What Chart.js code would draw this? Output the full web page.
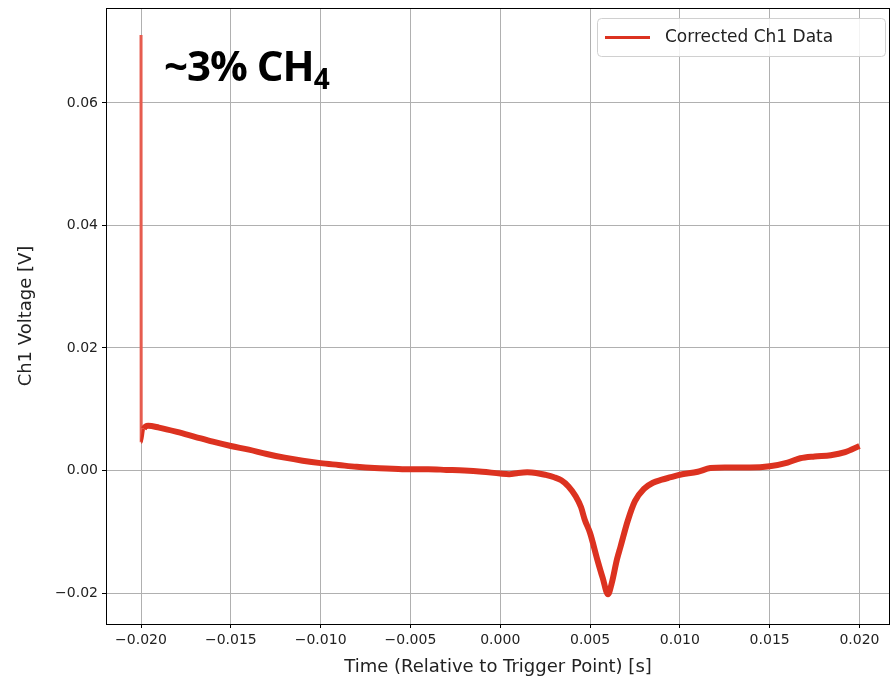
<!DOCTYPE html>
<html>
<head>
<meta charset="utf-8">
<script src="https://cdn.jsdelivr.net/npm/chart.js@4.4.1/dist/chart.umd.min.js"></script>
<style>
  html, body { margin: 0; padding: 0; background: #fff; }
  #wrap { position: relative; width: 891px; height: 683px; }
  #note { position: absolute; left: 164px; top: 36px; font-family: "Open Sans", sans-serif; font-weight: bold; font-size: 42px; color: #000; letter-spacing: -1px; }
  #note sub { font-size: 28px; vertical-align: -8px; line-height: 0; }
</style>
</head>
<body>
<div id="wrap">
  <canvas id="myChart" width="891" height="683"></canvas>
  <div id="note">~3% CH<sub>4</sub></div>
</div>
<script>
// time [s] and corrected Ch1 voltage [V]
var timeS = [-0.0200, -0.01999, -0.01985, -0.0196, -0.0190, -0.0180, -0.0170, -0.0160, -0.0150, -0.0140,
  -0.0130, -0.0120, -0.0110, -0.0100, -0.0090, -0.0080, -0.0070, -0.0060, -0.0050, -0.0040,
  -0.0030, -0.0020, -0.0010, 0.0000, 0.0005, 0.0010, 0.0015, 0.0020, 0.0025, 0.0030,
  0.0034, 0.0038, 0.0042, 0.0045, 0.0047, 0.0050, 0.0054, 0.0057, 0.0060, 0.0062,
  0.0065, 0.0067, 0.0071, 0.0075, 0.0080, 0.0085, 0.0090, 0.0095, 0.0100, 0.0110,
  0.0117, 0.0125, 0.0139, 0.0150, 0.0160, 0.0167, 0.0175, 0.0184, 0.0192, 0.0200];
var ch1V = [0.0711, 0.0046, 0.0068, 0.0073, 0.0070, 0.0063, 0.0055, 0.0047, 0.0040, 0.0034,
  0.0027, 0.0021, 0.0016, 0.0012, 0.0009, 0.0006, 0.0004, 0.0003, 0.0002, 0.0002,
  0.0001, 0.0000, -0.0002, -0.0005, -0.0006, -0.0004, -0.0003, -0.0004, -0.0007, -0.0011,
  -0.0016, -0.0026, -0.0042, -0.0060, -0.0080, -0.0102, -0.0145, -0.0175, -0.0202, -0.0185,
  -0.0145, -0.0124, -0.0082, -0.0050, -0.0030, -0.0020, -0.0015, -0.0011, -0.0007, -0.0002,
  0.0004, 0.0005, 0.0005, 0.0007, 0.0013, 0.0020, 0.0023, 0.0025, 0.0030, 0.0040];
var xTicks = [-0.020, -0.015, -0.010, -0.005, 0.000, 0.005, 0.010, 0.015, 0.020];
var yTicks = [-0.02, 0.00, 0.02, 0.04, 0.06];
var seriesName = 'Corrected Ch1 Data';
var lineColor = '#dc3220';

function minus(s) { return s.replace('-', '\u2212'); }

var framePlugin = {
  id: 'frame',
  afterDraw: function(chart) {
    var a = chart.chartArea, ctx = chart.ctx;
    ctx.save();
    ctx.strokeStyle = '#000';
    ctx.lineWidth = 1;
    ctx.strokeRect(a.left + 0.5, a.top + 0.5, a.right - a.left - 1, a.bottom - a.top);
    // legend box inside the axes, upper right
    var x = 597, y = 18, w = 288, h = 38, r = 4;
    ctx.fillStyle = 'rgba(255,255,255,0.85)';
    ctx.strokeStyle = '#d0d0d0';
    ctx.beginPath();
    ctx.roundRect(x + 0.5, y + 0.5, w, h, r);
    ctx.fill();
    ctx.stroke();
    ctx.strokeStyle = lineColor;
    ctx.lineWidth = 3;
    ctx.beginPath();
    ctx.moveTo(605, y + h / 2 + 0.5);
    ctx.lineTo(650, y + h / 2 + 0.5);
    ctx.stroke();
    ctx.fillStyle = '#222';
    ctx.font = '17px "DejaVu Sans"';
    ctx.textBaseline = 'middle';
    ctx.fillText(seriesName, 665, y + h / 2 + 1);
    ctx.restore();
  }
};

var points = timeS.map(function(t, i) { return { x: t, y: ch1V[i] }; });

new Chart(document.getElementById('myChart').getContext('2d'), {
  type: 'line',
  data: {
    datasets: [{
      label: seriesName,
      data: points,
      borderColor: lineColor,
      borderWidth: 6,
      pointRadius: 0,
      cubicInterpolationMode: 'monotone',
      segment: {
        borderWidth: function(ctx) { return ctx.p0DataIndex < 2 ? 3 : 6; },
        borderColor: function(ctx) { return ctx.p0DataIndex < 1 ? '#e65c4f' : lineColor; }
      }
    }]
  },
  plugins: [framePlugin],
  options: {
    responsive: false,
    animation: false,
    layout: { padding: { left: 0, right: 1, top: 8, bottom: 0 } },
    plugins: {
      legend: { display: false },
      tooltip: { enabled: false }
    },
    scales: {
      x: {
        type: 'linear',
        min: -0.02195,
        max: 0.02170,
        afterBuildTicks: function(axis) { axis.ticks = xTicks.map(function(v) { return { value: v }; }); },
        afterFit: function(axis) { axis.height = 59; },
        grid: { color: '#b0b0b0', tickColor: '#000', tickLength: 4, drawOnChartArea: true },
        border: { display: false },
        ticks: {
          color: '#222',
          font: { family: 'DejaVu Sans', size: 14 },
          padding: 4,
          maxRotation: 0,
          callback: function(v) { return minus(v.toFixed(3)); }
        },
        title: {
          display: true,
          text: 'Time (Relative to Trigger Point) [s]',
          color: '#222',
          font: { family: 'DejaVu Sans', size: 18 },
          padding: { top: 0, bottom: 5 }
        }
      },
      y: {
        type: 'linear',
        min: -0.02506,
        max: 0.0755,
        afterBuildTicks: function(axis) { axis.ticks = yTicks.map(function(v) { return { value: v }; }); },
        afterFit: function(axis) { axis.width = 106; axis.paddingTop = 0; axis.paddingBottom = 0; },
        grid: { color: '#b0b0b0', tickColor: '#000', tickLength: 4 },
        border: { display: false },
        ticks: {
          color: '#222',
          font: { family: 'DejaVu Sans', size: 14 },
          padding: 4,
          callback: function(v) { return minus(v.toFixed(2)); }
        },
        title: {
          display: true,
          text: 'Ch1 Voltage [V]',
          color: '#222',
          font: { family: 'DejaVu Sans', size: 18 },
          padding: { top: 16, bottom: 0 }
        }
      }
    }
  }
});
</script>
</body>
</html>
